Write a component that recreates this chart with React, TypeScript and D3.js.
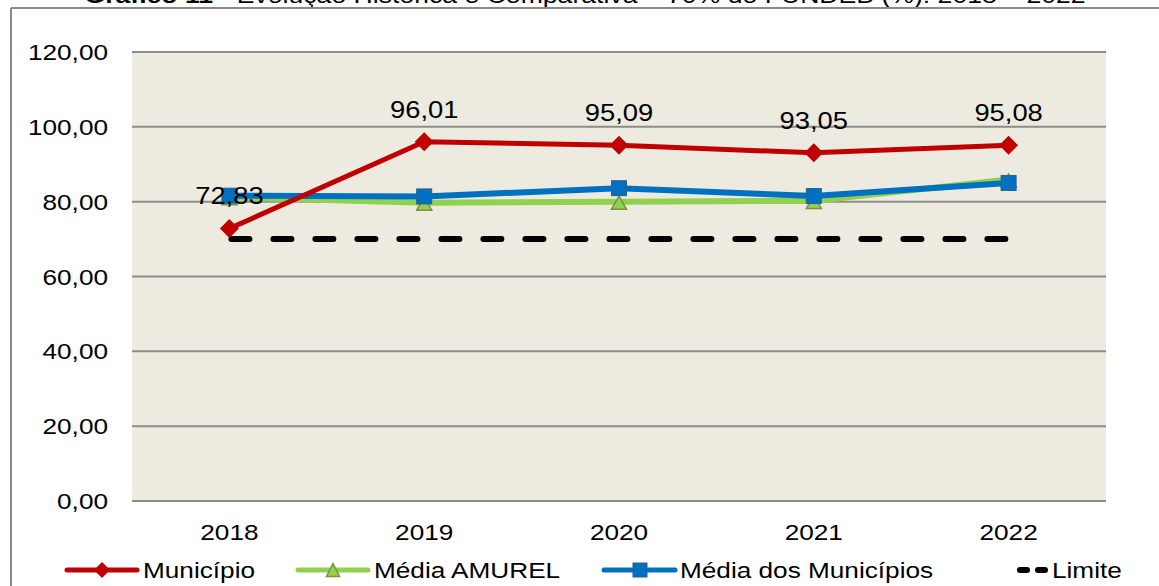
import React from 'react';
import * as d3 from 'd3';

const categories = ['2018', '2019', '2020', '2021', '2022'];
const municipio = [72.83, 96.01, 95.09, 93.05, 95.08];
const mediaAmurel = [81.2, 79.7, 80.0, 80.2, 85.9];
const mediaMunicipios = [81.6, 81.4, 83.6, 81.5, 85.0];
const limite = [70, 70, 70, 70, 70];
const yTicks = [0, 20, 40, 60, 80, 100, 120];

const W = 1159;
const H = 586;
const FONT = '"Liberation Sans", Arial, sans-serif';
const SX = 1.19;

const fmt = (v: number) => v.toFixed(2).replace('.', ',');

function T({ x, y, anchor = 'start', size = 22, children, weight = 'normal' }: any) {
  return (
    <text
      transform={`translate(${x},${y}) scale(${SX},1)`}
      textAnchor={anchor}
      fontFamily={FONT}
      fontSize={size}
      fontWeight={weight}
      fill="#000"
    >
      {children}
    </text>
  );
}

const diamond = (cx: number, cy: number, r: number) =>
  `M${cx},${cy - r}L${cx + r},${cy}L${cx},${cy + r}L${cx - r},${cy}Z`;
const triangle = (cx: number, cy: number, w: number, h: number) =>
  `M${cx},${cy - h / 2}L${cx + w / 2},${cy + h / 2}L${cx - w / 2},${cy + h / 2}Z`;

export default function App() {
  const x = d3.scaleBand<string>().domain(categories).range([132, 1106]).paddingInner(0).paddingOuter(0);
  const y = d3.scaleLinear().domain([0, 120]).range([501, 52]);
  const cx = (c: string) => (x(c) as number) + x.bandwidth() / 2;
  const line = d3
    .line<number>()
    .x((_, i) => cx(categories[i]))
    .y((d) => y(d));

  const red = '#C00000';
  const green = '#92D050';
  const greenDark = '#77933C';
  const blue = '#0070C0';
  const blueDark = '#2F5E96';

  return (
    <div style={{ position: 'fixed', left: 0, top: 0 }}>
      <svg width={W} height={H} style={{ display: 'block', background: '#fff' }}>
        {/* title (cut off at top, as in the source) */}
        <text
          transform={`translate(${585},${3}) scale(1.21,1)`}
          textAnchor="middle"
          fontFamily={FONT}
          fontSize={22}
          fill="#000"
        >
          <tspan fontWeight="bold">Gráfico 11</tspan>
          <tspan> - Evolução Histórica e Comparativa – 70% do FUNDEB (%): 2018 – 2022</tspan>
        </text>
        {/* chart border */}
        <line x1={11} x2={W} y1={8} y2={8} stroke="#888" strokeWidth={2} />
        <line x1={11} x2={11} y1={8} y2={H} stroke="#888" strokeWidth={2} />

        {/* plot area */}
        <rect x={132} y={52} width={1106 - 132} height={501 - 52} fill="#EDEAE0" />
        {yTicks.map((t) => (
          <g key={t}>
            <line x1={132} x2={1106} y1={y(t)} y2={y(t)} stroke="#8C8C8C" strokeWidth={2} />
            <T x={108} y={y(t) + 8} anchor="end">
              {fmt(t)}
            </T>
          </g>
        ))}
        {categories.map((c) => (
          <T key={c} x={cx(c)} y={540} anchor="middle">
            {c}
          </T>
        ))}

        {/* Limite */}
        <path
          d={line(limite) as string}
          fill="none"
          stroke="#000"
          strokeWidth={6}
          strokeDasharray="18 24"
          strokeLinecap="round"
          transform="translate(2,0)"
        />

        {/* Média AMUREL */}
        <path d={line(mediaAmurel) as string} fill="none" stroke={green} strokeWidth={6} strokeLinejoin="round" />
        {mediaAmurel.map((v, i) => (
          <path
            key={i}
            d={triangle(cx(categories[i]), y(v) + 1, 15, 13)}
            fill={green}
            stroke={greenDark}
            strokeWidth={1.5}
          />
        ))}

        {/* Média dos Municípios */}
        <path d={line(mediaMunicipios) as string} fill="none" stroke={blue} strokeWidth={6} strokeLinejoin="round" />
        {mediaMunicipios.map((v, i) => (
          <rect
            key={i}
            x={cx(categories[i]) - 7.5}
            y={y(v) - 7.5}
            width={15}
            height={15}
            fill={blue}
            stroke={blueDark}
            strokeWidth={1}
          />
        ))}

        {/* Município */}
        <path d={line(municipio) as string} fill="none" stroke={red} strokeWidth={5} strokeLinejoin="round" />
        {municipio.map((v, i) => (
          <path key={i} d={diamond(cx(categories[i]), y(v), 9.5)} fill={red} />
        ))}
        {municipio.map((v, i) => (
          <T key={i} x={cx(categories[i])} y={y(v) - 24} anchor="middle" size={23}>
            {fmt(v)}
          </T>
        ))}

        {/* legend */}
        <g>
          <line x1={67} x2={137} y1={570} y2={570} stroke={red} strokeWidth={5} strokeLinecap="round" />
          <path d={diamond(102, 570, 8)} fill={red} />
          <T x={143} y={578}>Município</T>

          <line x1={298} x2={368} y1={570} y2={570} stroke={green} strokeWidth={5} strokeLinecap="round" />
          <path d={triangle(333, 570, 13, 13)} fill={green} stroke={greenDark} strokeWidth={1.5} />
          <T x={374} y={578}>Média AMUREL</T>

          <line x1={604} x2={675} y1={570} y2={570} stroke={blue} strokeWidth={5} strokeLinecap="round" />
          <rect x={633} y={563} width={14} height={14} fill={blue} stroke={blueDark} strokeWidth={1} />
          <T x={680} y={578}>Média dos Municípios</T>

          <line x1={1020} x2={1027} y1={570} y2={570} stroke="#000" strokeWidth={6} strokeLinecap="round" />
          <line x1={1038} x2={1045} y1={570} y2={570} stroke="#000" strokeWidth={6} strokeLinecap="round" />
          <T x={1052} y={578}>Limite</T>
        </g>
      </svg>
    </div>
  );
}
